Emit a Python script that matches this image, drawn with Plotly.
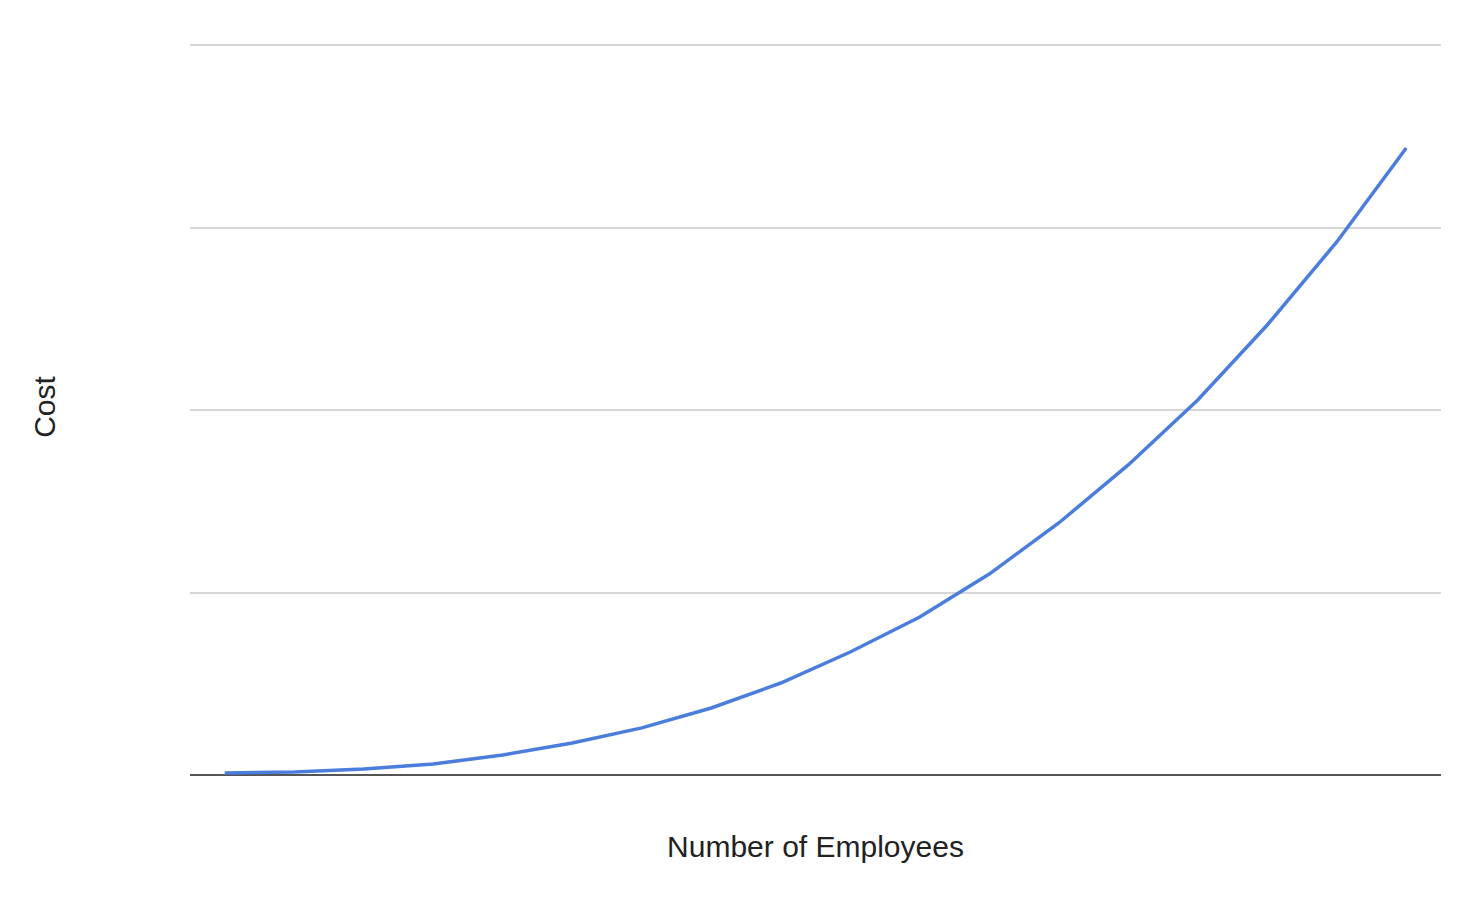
import plotly.graph_objects as go

# number of employees (index) and cost
employees = list(range(1, 19))
cost = [11, 16, 33, 60, 110, 175, 258, 367, 504, 674,
        866, 1101, 1381, 1699, 2055, 2466, 2921, 3436]

fig = go.Figure()
fig.add_trace(
    go.Scatter(
        x=employees,
        y=cost,
        mode="lines",
        line=dict(color="#4a7ddc", width=3.5),
        showlegend=False,
    )
)

# the page body adds an 8px offset, margins compensate for it
fig.update_layout(
    width=1470,
    height=898,
    margin=dict(l=182, r=37, t=31, b=131),
    paper_bgcolor="white",
    plot_bgcolor="white",
    font=dict(family="Liberation Sans, Arial, sans-serif", color="#222222"),
    xaxis=dict(
        range=[0.5, 18.5],
        showgrid=False,
        zeroline=False,
        showticklabels=False,
        ticks="",
        title=dict(text="Number of Employees", font=dict(size=30), standoff=60),
    ),
    yaxis=dict(
        range=[0, 4033],
        dtick=1000,
        showgrid=True,
        gridcolor="#d6d6d6",
        gridwidth=2,
        zeroline=True,
        zerolinecolor="#555555",
        zerolinewidth=2,
        showticklabels=False,
        ticks="",
        title=dict(text="Cost", font=dict(size=30), standoff=124),
    ),
)

fig.write_html("out.html")
